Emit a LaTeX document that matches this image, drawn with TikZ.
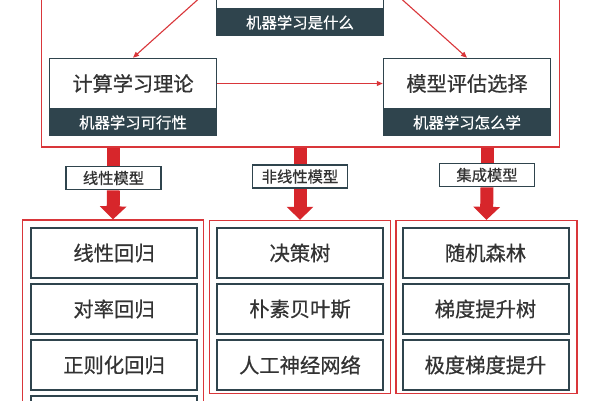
\documentclass[tikz,border=0pt]{standalone}
\usepackage{fontspec}
\newfontfamily\cjk{Noto Sans CJK SC}[FakeBold=0.6]
\usetikzlibrary{arrows.meta,positioning}
\definecolor{slate}{HTML}{2F444D}
\definecolor{ink}{HTML}{333333}
\definecolor{mlred}{HTML}{D9363A}
\definecolor{arrowred}{HTML}{D7262B}
\tikzset{
  topic/.style={draw=slate,line width=1.5pt,fill=white,text=ink,
    minimum width=167pt,minimum height=50pt,inner sep=0pt,
    font=\cjk\fontsize{20.2pt}{23pt}\selectfont},
  band/.style={draw=slate,line width=1.5pt,fill=slate,text=white,
    minimum width=167pt,minimum height=25pt,inner sep=0pt,
    font=\cjk\fontsize{15.4pt}{18pt}\selectfont},
  tag/.style={draw=slate,line width=1.8pt,fill=white,text=ink,
    minimum width=95pt,minimum height=23pt,inner sep=0pt,
    font=\cjk\fontsize{15.3pt}{18pt}\selectfont},
  item/.style={draw=slate,line width=2pt,fill=white,text=ink,
    minimum width=166pt,minimum height=50pt,inner sep=0pt,
    font=\cjk\fontsize{20.3pt}{23pt}\selectfont}
}
\begin{document}
\begin{tikzpicture}[x=1pt,y=-1pt]
        \clip[use as bounding box] (0,0) rectangle (600,400);
        \fill[white] (0,0) rectangle (600,400);
        % red frames
        \begin{scope}[every node/.style={draw=mlred,line width=1.3pt,inner sep=0pt}]
            \node (outer) [minimum width=518pt,minimum height=230pt] at (300.2,32) {};
            \node (colA)  [minimum width=181pt,minimum height=230pt] at (113,335) {};
            \node (colB)  [minimum width=181pt,minimum height=173pt] at (300,307) {};
            \node (colC)  [minimum width=181pt,minimum height=173pt] at (486.5,307) {};
        \end{scope}
        % theory part
        \node[topic] (what) at (300,-16.5) {};
        \node[band,below=0pt of what] (whatsub) {机器学习是什么};
        \node[topic] (theory) at (133,83.5) {计算学习理论};
        \node[band,below=0pt of theory] (theorysub) {机器学习可行性};
        \node[topic] (select) at (467,83.5) {模型评估选择};
        \node[band,below=0pt of select] (selectsub) {机器学习怎么学};
        % model families
        \node[tag] (linear)    at (113.5,178) {线性模型};
        \node[tag] (nonlinear) at (300,176.5) {非线性模型};
        \node[tag] (ensemble)  at (487,175)   {集成模型};
        \node[item] (lin1) at (114,253) {线性回归};
        \node[item,below=4pt of lin1] (lin2) {对率回归};
        \node[item,below=4pt of lin2] (lin3) {正则化回归};
        \node[item,below=4pt of lin3] (lin4) {};
        \node[item] (non1) at (300,253) {决策树};
        \node[item,below=4pt of non1] (non2) {朴素贝叶斯};
        \node[item,below=4pt of non2] (non3) {人工神经网络};
        \node[item] (ens1) at (485.5,253) {随机森林};
        \node[item,below=4pt of ens1] (ens2) {梯度提升树};
        \node[item,below=4pt of ens2] (ens3) {极度梯度提升};
        \begin{scope}[every edge/.style={draw=mlred,line width=1.1pt,-{Triangle[length=6pt,width=5pt]}}]
            \path
                (what.west) edge (theory.north)
                (what.east) edge (select.north)
                (theory.east) edge (select.west);
        \end{scope}
        \begin{scope}[every edge/.style={draw=arrowred,line width=13pt}]
            \path
                (linear |- outer.south) edge (linear.north)
                (nonlinear |- outer.south) edge (nonlinear.north)
                (ensemble |- outer.south) edge (ensemble.north)
                (linear.south) edge [-{Triangle[length=13pt,width=26pt]}] (colA.north)
                (nonlinear.south) edge [-{Triangle[length=13pt,width=26pt]}] (colB.north)
                (ensemble.south) edge [-{Triangle[length=13pt,width=26pt]}] (colC.north);
        \end{scope}
    \end{tikzpicture}
\end{document}
